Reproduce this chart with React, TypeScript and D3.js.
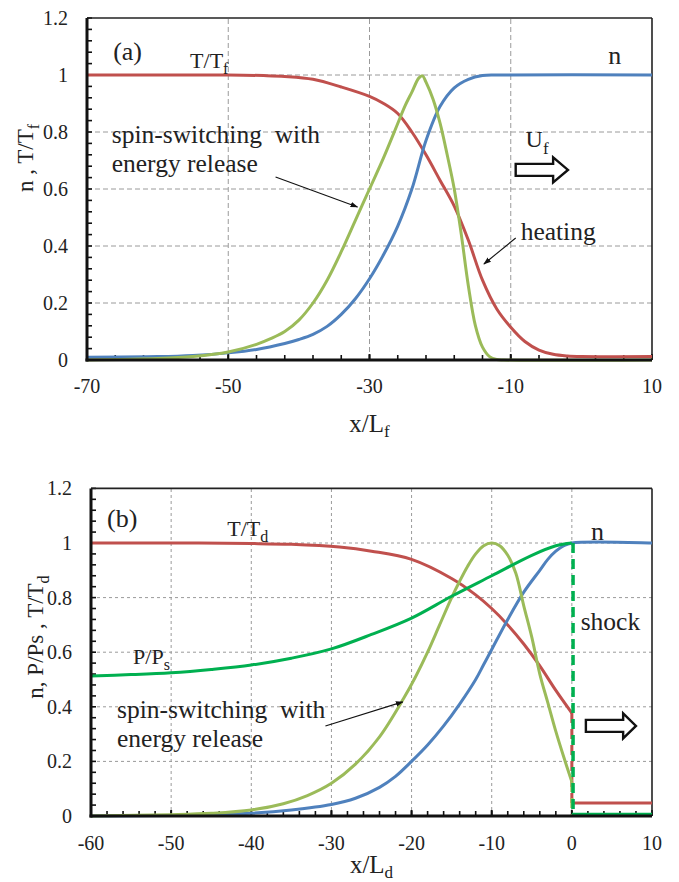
import React from 'react';
import * as d3 from 'd3';

// ---------- Panel (a) data ----------
const aTx = [-70, -60, -50, -45, -42, -38, -34, -30, -28, -26, -24, -22, -20, -18, -16, -14, -12, -10, -8, -6, -4, -2, 0, 10];
const aT = [1, 1, 1, 0.998, 0.995, 0.985, 0.958, 0.925, 0.9, 0.865, 0.8, 0.72, 0.63, 0.54, 0.42, 0.28, 0.18, 0.115, 0.065, 0.035, 0.02, 0.014, 0.012, 0.012];

const aNx = [-70, -60, -55, -50, -46, -42, -40, -38, -36, -34, -32, -30, -28, -26, -24, -22, -20, -18, -16, -14, -12, 10];
const aN = [0.01, 0.012, 0.016, 0.025, 0.037, 0.058, 0.072, 0.09, 0.118, 0.16, 0.215, 0.285, 0.37, 0.47, 0.6, 0.77, 0.89, 0.955, 0.985, 0.998, 1, 1];

const aSx = [-70, -60, -55, -50, -46, -44, -42, -40, -38, -36, -34, -32, -30, -28, -26, -25, -24, -23, -22.5, -22, -21, -20, -19, -18, -17, -16, -15, -14, -13, -12, -11, 10];
const aS = [0, 0.005, 0.012, 0.028, 0.055, 0.075, 0.1, 0.14, 0.2, 0.28, 0.38, 0.49, 0.6, 0.71, 0.83, 0.89, 0.94, 0.99, 0.997, 0.975, 0.915, 0.83, 0.72, 0.6, 0.44, 0.26, 0.12, 0.045, 0.012, 0.002, 0, 0];

const aXTicks = [-70, -50, -30, -10, 10];

// ---------- Panel (b) data ----------
const bTx = [-60, -50, -40, -35, -29, -25, -20, -15, -12, -10, -8, -6, -4, -2, 0];
const bT = [1, 1, 0.998, 0.995, 0.985, 0.97, 0.94, 0.87, 0.81, 0.76, 0.7, 0.63, 0.55, 0.46, 0.377];
const bTpostX = [0, 10];
const bTpost = [0.048, 0.048];

const bPx = [-60, -55, -50, -45, -40, -35, -30, -25, -20, -15, -10, -5, -2, 0];
const bP = [0.513, 0.518, 0.525, 0.537, 0.553, 0.578, 0.612, 0.665, 0.725, 0.805, 0.88, 0.955, 0.99, 1];
const bPpostX = [0, 10];
const bPpost = [0.006, 0.006];

const bSx = [-60, -50, -45, -40, -36, -33, -30, -27, -24, -21, -19.5, -18, -16.5, -15, -14, -13, -12, -11, -10, -9, -8, -7, -6, -5, -4, -3, -2, -1, 0];
const bS = [0, 0.005, 0.01, 0.022, 0.045, 0.075, 0.12, 0.19, 0.29, 0.43, 0.51, 0.6, 0.7, 0.8, 0.86, 0.915, 0.96, 0.99, 1, 0.99, 0.955, 0.89, 0.77, 0.655, 0.52, 0.415, 0.31, 0.215, 0.125];
const bSpostX = [0, 10];
const bSpost = [0.003, 0.003];

const bNx = [-60, -50, -45, -40, -35, -30, -27, -24, -22, -20, -18, -16, -14, -12, -11, -10, -8, -6, -4, -3, -2, -1, 0, 10];
const bN = [0, 0.002, 0.005, 0.01, 0.022, 0.042, 0.065, 0.105, 0.145, 0.2, 0.26, 0.33, 0.41, 0.5, 0.555, 0.61, 0.72, 0.82, 0.9, 0.94, 0.97, 0.99, 1, 1];

const bXTicks = [-60, -50, -40, -30, -20, -10, 0, 10];

const yTicks = [0, 0.2, 0.4, 0.6, 0.8, 1, 1.2];

const RED = '#C0504D';
const BLUE = '#4F81BD';
const LIME = '#9BBB59';
const GREEN = '#00B050';
const FONT = '"Liberation Serif","Times New Roman",serif';
const ANN = 25.5;

const zip = (xs: number[], ys: number[]) => xs.map((x, i) => [x, ys[i]] as [number, number]);

function Frame({ x, y, xTicks, xMinor, dash, sub, titleY, yTitle, yTitleX, yTitleY, tickLabelY }: any) {
  const [x0, x1] = x.range();
  const [y0, y1] = y.range();
  const yMinor = d3.range(0, 31).map((i) => i * 0.04);
  const xm = d3.range(0, Math.round((x.domain()[1] - x.domain()[0]) / xMinor) + 1).map((i) => x.domain()[0] + i * xMinor);
  return (
    <g>
      {yTicks.filter((t) => t > 0 && t < 1.2).map((t) => (
        <line key={'gy' + t} x1={x0} x2={x1} y1={y(t)} y2={y(t)} stroke="#9a9a9a" strokeWidth={1} strokeDasharray={dash} />
      ))}
      {xTicks.filter((t: number) => t > x.domain()[0] && t < x.domain()[1]).map((t: number) => (
        <line key={'gx' + t} x1={x(t)} x2={x(t)} y1={y0} y2={y1} stroke="#9a9a9a" strokeWidth={1} strokeDasharray={dash} />
      ))}
      {yMinor.map((t, i) => (
        <line key={'ym' + i} x1={x0} x2={x0 + 5} y1={y(t)} y2={y(t)} stroke="#111" strokeWidth={1.6} />
      ))}
      {xm.map((t: number, i: number) => (
        <line key={'xm' + i} x1={x(t)} x2={x(t)} y1={y0} y2={y0 - 5} stroke="#111" strokeWidth={1.6} />
      ))}
      {xTicks.map((t: number) => (
        <line key={'xt' + t} x1={x(t)} x2={x(t)} y1={y0} y2={y0 - 6} stroke="#111" strokeWidth={2} />
      ))}
      <line x1={x0} x2={x1} y1={y1} y2={y1} stroke="#222" strokeWidth={1.6} />
      <line x1={x1} x2={x1} y1={y1} y2={y0} stroke="#222" strokeWidth={1.6} />
      {yTicks.map((t) => (
        <text key={'yl' + t} x={x0 - 19} y={y(t) + 7} textAnchor="end" fontSize={20} fontFamily={FONT} fill="#222">
          {String(+t.toFixed(1))}
        </text>
      ))}
      {xTicks.map((t: number) => (
        <text key={'xl' + t} x={x(t)} y={tickLabelY} textAnchor="middle" fontSize={20} fontFamily={FONT} fill="#222">
          {String(t)}
        </text>
      ))}
      <text x={(x0 + x1) / 2} y={titleY} textAnchor="middle" fontSize={25} fontFamily={FONT} fill="#222">
        x/L<tspan fontSize={17} dy={5}>{sub}</tspan>
      </text>
      <text transform={`translate(${yTitleX},${yTitleY}) rotate(-90)`} textAnchor="middle" fontSize={23} fontFamily={FONT} fill="#222">
        {yTitle}
      </text>
    </g>
  );
}

function AxesLines({ x, y }: any) {
  const [x0, x1] = x.range();
  const [y0, y1] = y.range();
  return (
    <g>
      <line x1={x0} x2={x0} y1={y0 + 1.5} y2={y1} stroke="#111" strokeWidth={3} />
      <line x1={x0 - 1.5} x2={x1} y1={y0} y2={y0} stroke="#111" strokeWidth={3} />
    </g>
  );
}

function BlockArrow({ x0, x1, xh, yc }: any) {
  const d = `M${x0},${yc - 6} L${xh},${yc - 6} L${xh},${yc - 12.5} L${x1},${yc} L${xh},${yc + 12.5} L${xh},${yc + 6} L${x0},${yc + 6} Z`;
  return <path d={d} fill="#fff" stroke="#111" strokeWidth={2.4} strokeLinejoin="miter" />;
}

export default function App() {
  const xA = d3.scaleLinear().domain([-70, 10]).range([87, 652]);
  const yA = d3.scaleLinear().domain([0, 1.2]).range([360, 18]);
  const xB = d3.scaleLinear().domain([-60, 10]).range([91, 652]);
  const yB = d3.scaleLinear().domain([0, 1.2]).range([816, 488.4]);

  const curve = d3.curveCatmullRom.alpha(0.5);
  const lineA = d3.line<[number, number]>().x((d) => xA(d[0])).y((d) => yA(d[1])).curve(curve);
  const lineB = d3.line<[number, number]>().x((d) => xB(d[0])).y((d) => yB(d[1])).curve(curve);
  const segB = d3.line<[number, number]>().x((d) => xB(d[0])).y((d) => yB(d[1]));

  const lw = 3;
  const shockDash = '10,6';

  return (
    <svg width={679} height={882} style={{ position: 'absolute', left: 0, top: 0, background: '#fff' }}>
      <defs>
        <marker id="ah" viewBox="0 0 10 10" refX="9" refY="5" markerWidth="7" markerHeight="7" orient="auto">
          <path d="M0,1.5 L10,5 L0,8.5 Z" fill="#111" />
        </marker>
      </defs>
      <rect x={0} y={0} width={679} height={882} fill="#fff" />

      {/* ---------------- Panel (a) ---------------- */}
      <Frame x={xA} y={yA} xTicks={aXTicks} xMinor={4} dash="5,3" sub="f" titleY={432} tickLabelY={393}
        yTitle={<>n , T/T<tspan fontSize={16} dy={6}>f</tspan></>} yTitleX={33} yTitleY={158} />
      <path d={lineA(zip(aTx, aT)) || ''} fill="none" stroke={RED} strokeWidth={lw} />
      <path d={lineA(zip(aNx, aN)) || ''} fill="none" stroke={BLUE} strokeWidth={lw} />
      <path d={lineA(zip(aSx, aS)) || ''} fill="none" stroke={LIME} strokeWidth={lw} />
      <AxesLines x={xA} y={yA} />

      <text x={xA(-66.3)} y={yA(1.053)} fontSize={26} fontFamily={FONT} fill="#222">(a)</text>
      <text x={xA(-55.4)} y={yA(1.025)} fontSize={22} fontFamily={FONT} fill="#222">
        T/T<tspan fontSize={16} dy={6}>f</tspan>
      </text>
      <text x={xA(3.8)} y={yA(1.04)} fontSize={26} fontFamily={FONT} fill="#222">n</text>
      <text x={xA(-7.9)} y={yA(0.747)} fontSize={24} fontFamily={FONT} fill="#222">
        U<tspan fontSize={17} dy={7}>f</tspan>
      </text>
      <BlockArrow x0={xA(-9.3)} x1={xA(-1.9)} xh={xA(-4.0)} yc={yA(0.667)} />
      <text x={xA(-66.5)} y={yA(0.761)} fontSize={ANN} fontFamily={FONT} fill="#222" xmlSpace="preserve">spin-switching  with</text>
      <text x={xA(-66.5)} y={yA(0.66)} fontSize={ANN} fontFamily={FONT} fill="#222">energy release</text>
      <line x1={xA(-43.3)} y1={yA(0.642)} x2={xA(-31.7)} y2={yA(0.537)} stroke="#111" strokeWidth={1.1} markerEnd="url(#ah)" />
      <text x={xA(-8.6)} y={yA(0.421)} fontSize={ANN} fontFamily={FONT} fill="#222">heating</text>
      <line x1={xA(-9.3)} y1={yA(0.428)} x2={xA(-13.8)} y2={yA(0.337)} stroke="#111" strokeWidth={1.1} markerEnd="url(#ah)" />

      {/* ---------------- Panel (b) ---------------- */}
      <Frame x={xB} y={yB} xTicks={bXTicks} xMinor={2} dash="3,3" sub="d" titleY={873} tickLabelY={850}
        yTitle={<>n, P/Ps , T/T<tspan fontSize={16} dy={6}>d</tspan></>} yTitleX={43} yTitleY={637} />
      <path d={lineB(zip(bTx, bT)) || ''} fill="none" stroke={RED} strokeWidth={lw} />
      <path d={segB([[bTx[bTx.length - 1], bT[bT.length - 1]], [bTpostX[0], bTpost[0]]]) || ''} fill="none" stroke={RED} strokeWidth={lw} strokeDasharray={shockDash} />
      <path d={segB(zip(bTpostX, bTpost)) || ''} fill="none" stroke={RED} strokeWidth={lw} />
      <path d={lineB(zip(bNx, bN)) || ''} fill="none" stroke={BLUE} strokeWidth={lw} />
      <path d={lineB(zip(bSx, bS)) || ''} fill="none" stroke={LIME} strokeWidth={lw} />
      <path d={segB([[bSx[bSx.length - 1], bS[bS.length - 1]], [bSpostX[0], bSpost[0]]]) || ''} fill="none" stroke={LIME} strokeWidth={lw} strokeDasharray={shockDash} />
      <path d={segB(zip(bSpostX, bSpost)) || ''} fill="none" stroke={LIME} strokeWidth={lw} />
      <path d={lineB(zip(bPx, bP)) || ''} fill="none" stroke={GREEN} strokeWidth={lw} />
      <path d={segB([[bPx[bPx.length - 1] + 0.15, bP[bP.length - 1]], [bPpostX[0] + 0.15, bPpost[0]]]) || ''} fill="none" stroke={GREEN} strokeWidth={3.5} strokeDasharray={shockDash} />
      <path d={segB(zip(bPpostX, bPpost)) || ''} fill="none" stroke={GREEN} strokeWidth={lw} />
      <AxesLines x={xB} y={yB} />

      <text x={xB(-58)} y={yB(1.059)} fontSize={26} fontFamily={FONT} fill="#222">(b)</text>
      <text x={xB(-43)} y={yB(1.026)} fontSize={22} fontFamily={FONT} fill="#222">
        T/T<tspan fontSize={16} dy={6}>d</tspan>
      </text>
      <text x={xB(2.4)} y={yB(1.011)} fontSize={26} fontFamily={FONT} fill="#222">n</text>
      <text x={xB(1.1)} y={yB(0.681)} fontSize={ANN} fontFamily={FONT} fill="#222">shock</text>
      <text x={xB(-54.75)} y={yB(0.557)} fontSize={22} fontFamily={FONT} fill="#222">
        P/P<tspan fontSize={16} dy={6}>s</tspan>
      </text>
      <text x={xB(-56.75)} y={yB(0.359)} fontSize={ANN} fontFamily={FONT} fill="#222" xmlSpace="preserve">spin-switching  with</text>
      <text x={xB(-56.75)} y={yB(0.253)} fontSize={ANN} fontFamily={FONT} fill="#222">energy release</text>
      <line x1={xB(-30.75)} y1={yB(0.33)} x2={xB(-21.1)} y2={yB(0.418)} stroke="#111" strokeWidth={1.1} markerEnd="url(#ah)" />
      <BlockArrow x0={xB(1.75)} x1={xB(8.0)} xh={xB(6.4)} yc={yB(0.33)} />
    </svg>
  );
}
